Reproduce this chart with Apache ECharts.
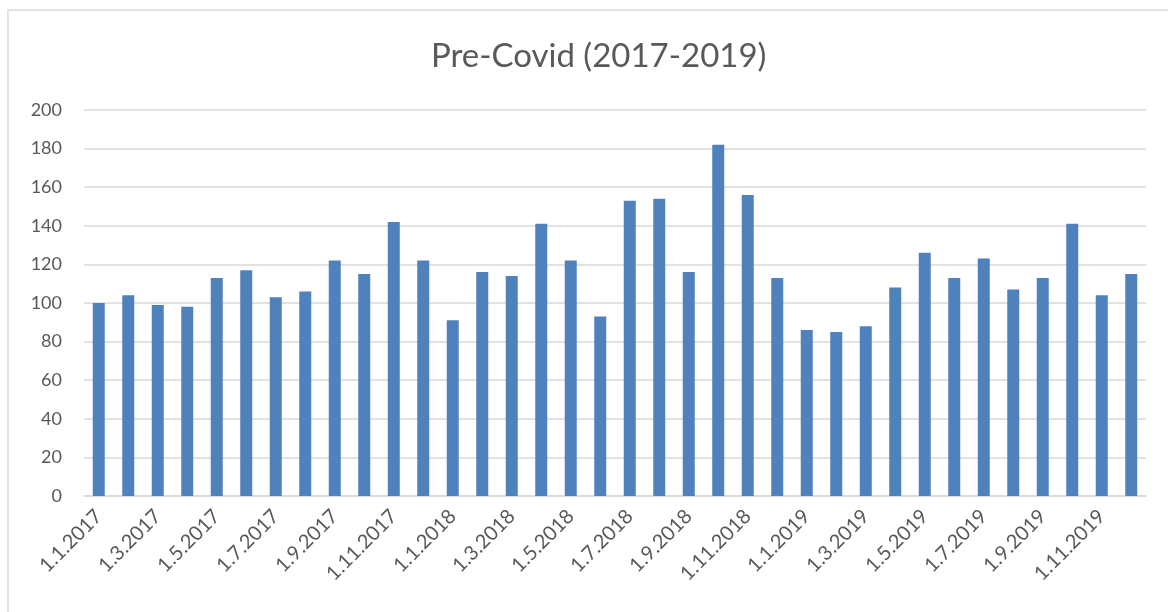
<!DOCTYPE html>
<html>
<head>
<meta charset="utf-8">
<script src="https://cdn.jsdelivr.net/npm/echarts@6/dist/echarts.min.js"></script>
<style>
  html, body { margin: 0; padding: 0; background: #fff; }
  #chart { width: 1168px; height: 612px; }
</style>
</head>
<body>
<div id="chart"></div>
<script>
var months = [
  '1.1.2017', '1.2.2017', '1.3.2017', '1.4.2017', '1.5.2017', '1.6.2017',
  '1.7.2017', '1.8.2017', '1.9.2017', '1.10.2017', '1.11.2017', '1.12.2017',
  '1.1.2018', '1.2.2018', '1.3.2018', '1.4.2018', '1.5.2018', '1.6.2018',
  '1.7.2018', '1.8.2018', '1.9.2018', '1.10.2018', '1.11.2018', '1.12.2018',
  '1.1.2019', '1.2.2019', '1.3.2019', '1.4.2019', '1.5.2019', '1.6.2019',
  '1.7.2019', '1.8.2019', '1.9.2019', '1.10.2019', '1.11.2019', '1.12.2019'
];
var counts = [
  100, 104, 99, 98, 113, 117, 103, 106, 122, 115, 142, 122,
  91, 116, 114, 141, 122, 93, 153, 154, 116, 182, 156, 113,
  86, 85, 88, 108, 126, 113, 123, 107, 113, 141, 104, 115
];

var font = 'Lato';
var myChart = echarts.init(document.getElementById('chart'));

var option = {
  backgroundColor: '#ffffff',
  animation: false,
  title: {
    text: 'Pre-Covid (2017-2019)',
    left: 426,
    top: 35,
    textStyle: { fontFamily: font, fontSize: 33, fontWeight: 'normal', color: '#595959' }
  },
  graphic: [{
    type: 'rect',
    shape: { x: 8, y: 10, width: 1200, height: 700 },
    style: { fill: 'none', stroke: '#d9d9d9', lineWidth: 1.5 },
    silent: true
  }],
  grid: { left: 84, right: 22, top: 110, bottom: 116 },
  xAxis: {
    type: 'category',
    data: months,
    axisLine: { lineStyle: { color: '#d9d9d9', width: 1.5 } },
    axisTick: { interval: 1, length: 6, lineStyle: { color: '#d9d9d9', width: 1.5 } },
    axisLabel: {
      interval: 1,
      rotate: 45,
      margin: 17,
      fontFamily: font,
      fontSize: 20,
      color: '#595959'
    }
  },
  yAxis: {
    type: 'value',
    min: 0,
    max: 200,
    interval: 20,
    axisLine: { show: false },
    axisTick: { show: false },
    axisLabel: { margin: 22, fontFamily: font, fontSize: 18, color: '#595959' },
    splitLine: { lineStyle: { color: '#d9d9d9', width: 1.5 } }
  },
  series: [{
    type: 'bar',
    data: counts,
    barWidth: 12,
    itemStyle: { color: '#4f81bd' }
  }]
};

myChart.setOption(option);
</script>
</body>
</html>
